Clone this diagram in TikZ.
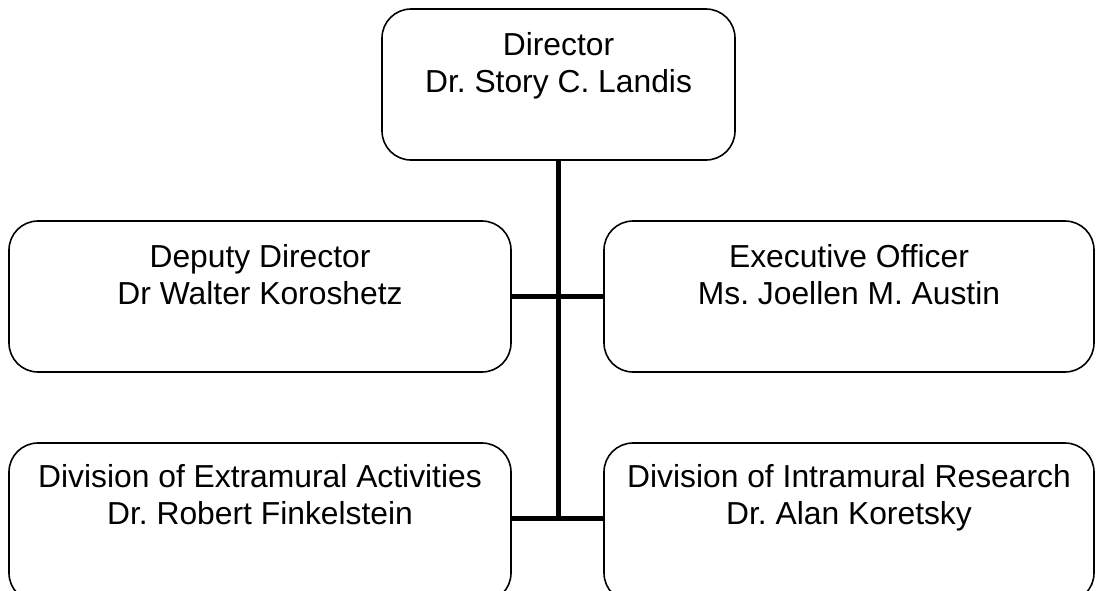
\documentclass[tikz,border=0pt]{standalone}
\usepackage{fontspec}
\setmainfont{Liberation Sans}
\frenchspacing
\begin{document}
\begin{tikzpicture}[x=1pt,y=-1pt,
  box/.style={draw=black, line width=1.6pt, rounded corners=29pt, fill=white},
  txt/.style={align=center, font=\fontsize{31.8}{37}\selectfont, inner sep=0pt, anchor=base},
  conn/.style={line width=5pt}]
\clip (0,0) rectangle (1096,590);
\fill[white] (0,0) rectangle (1096,590);
% boxes
\draw[box] (382,9) rectangle (735,160);
\draw[box] (9,221) rectangle (511,372);
\draw[box] (604,221) rectangle (1094,372);
\draw[box] (9,443) rectangle (511,602);
\draw[box] (604,443) rectangle (1094,602);
% named anchors for connectors
\coordinate (dirS) at (558,160);
\coordinate (depE) at (511,296);
\coordinate (exeW) at (604,296);
\coordinate (extE) at (511,518);
\coordinate (intW) at (604,518);
\coordinate (trunkEnd) at (558,520.5);
% texts
\node[txt] (dir) at (558.5,55) {Director};
\node[txt] (dir2) at (558.5,92) {Dr. Story C. Landis};
\node[txt] (dep) at (260,267) {Deputy Director};
\node[txt] (dep2) at (260,304) {Dr Walter Koroshetz};
\node[txt] (exe) at (849,267) {Executive Officer};
\node[txt] (exe2) at (849,304) {Ms. Joellen M. Austin};
\node[txt] (ext) at (260,487) {Division of Extramural Activities};
\node[txt] (ext2) at (260,524) {Dr. Robert Finkelstein};
\node[txt] (int) at (849,487) {Division of Intramural Research};
\node[txt] (int2) at (849,524) {Dr. Alan Koretsky};
% connectors
\draw[conn] (dirS) -- (trunkEnd);
\draw[conn] (depE) -- (exeW);
\draw[conn] (extE) -- (intW);
\end{tikzpicture}
\end{document}
